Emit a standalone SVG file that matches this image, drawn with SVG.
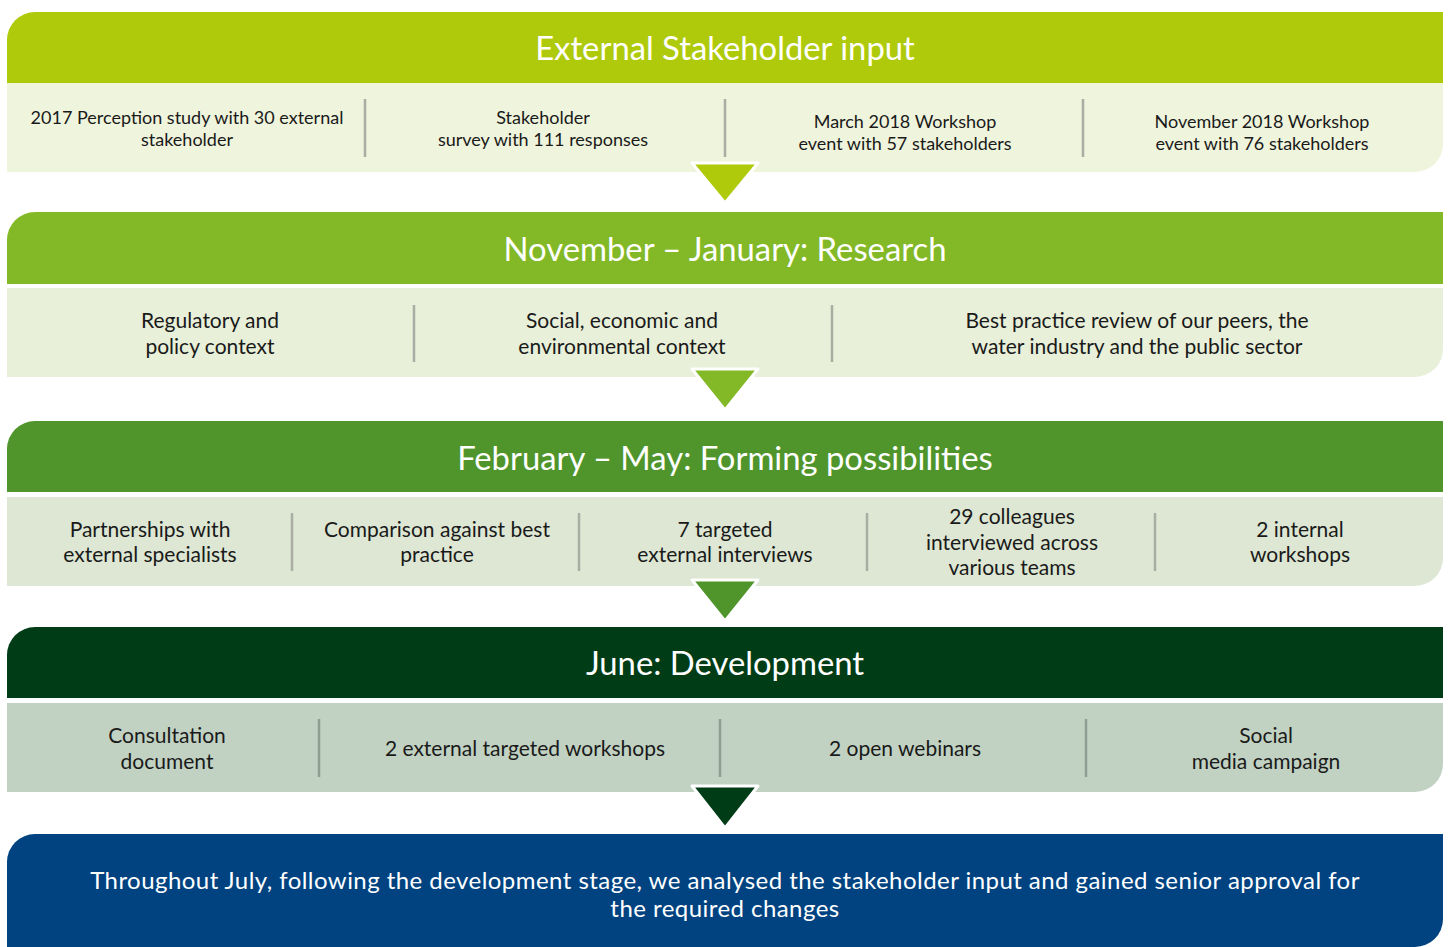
<svg xmlns="http://www.w3.org/2000/svg" width="1449" height="947" viewBox="0 0 1449 947">
  <style>
    .hd { font-family: Lato, "Open Sans", sans-serif; font-size: 32.8px; fill: #ffffff; text-anchor: middle; }
    .t1 { font-family: Lato, "Open Sans", sans-serif; font-size: 18px; fill: #1a1a1a; text-anchor: middle; }
    .t2 { font-family: Lato, "Open Sans", sans-serif; font-size: 21px; fill: #1a1a1a; text-anchor: middle; }
    .tb { font-family: Lato, "Open Sans", sans-serif; font-size: 24px; letter-spacing: 0.45px; fill: #ffffff; text-anchor: middle; }
    .dv { stroke: #a9ada3; stroke-width: 2.5; }
    .dv4 { stroke: #8e9e91; stroke-width: 2.5; }
    .arr { stroke: #ffffff; stroke-width: 3; stroke-linejoin: round; }
  </style>

  <!-- Stage 1: External stakeholder input -->
  <g id="stage-external">
    <path d="M7,83 V40 A28,28 0 0 1 35,12 H1443 V83 Z" fill="#afca0b"/>
    <path d="M7,83 H1443 V144 A28,28 0 0 1 1415,172 H7 Z" fill="#eff4dc"/>
    <text class="hd" x="725" y="60">External Stakeholder input</text>
    <line class="dv" x1="365" y1="99" x2="365" y2="157"/>
    <line class="dv" x1="725" y1="99" x2="725" y2="157"/>
    <line class="dv" x1="1083" y1="99" x2="1083" y2="157"/>
    <text class="t1" x="187" y="124">2017 Perception study with 30 external</text>
    <text class="t1" x="187" y="146">stakeholder</text>
    <text class="t1" x="543" y="124">Stakeholder</text>
    <text class="t1" x="543" y="146">survey with 111 responses</text>
    <text class="t1" x="905" y="128">March 2018 Workshop</text>
    <text class="t1" x="905" y="150">event with 57 stakeholders</text>
    <text class="t1" x="1262" y="128">November 2018 Workshop</text>
    <text class="t1" x="1262" y="150">event with 76 stakeholders</text>
  </g>

  <!-- Stage 2: Research -->
  <g id="stage-research">
    <path d="M7,284 V240 A28,28 0 0 1 35,212 H1443 V284 Z" fill="#83b927"/>
    <path d="M7,288 H1443 V349 A28,28 0 0 1 1415,377 H7 Z" fill="#e8f0d9"/>
    <text class="hd" x="725" y="261">November – January: Research</text>
    <line class="dv" x1="414" y1="305" x2="414" y2="362"/>
    <line class="dv" x1="832" y1="305" x2="832" y2="362"/>
    <text class="t2" x="210" y="328">Regulatory and</text>
    <text class="t2" x="210" y="354">policy context</text>
    <text class="t2" x="622" y="328">Social, economic and</text>
    <text class="t2" x="622" y="354">environmental context</text>
    <text class="t2" x="1137" y="328">Best practice review of our peers, the</text>
    <text class="t2" x="1137" y="354">water industry and the public sector</text>
  </g>

  <!-- Stage 3: Forming possibilities -->
  <g id="stage-forming">
    <path d="M7,492 V449 A28,28 0 0 1 35,421 H1443 V492 Z" fill="#4f952b"/>
    <path d="M7,497 H1443 V558 A28,28 0 0 1 1415,586 H7 Z" fill="#dde7d3"/>
    <text class="hd" x="725" y="470">February – May: Forming possibilities</text>
    <line class="dv" x1="292" y1="513" x2="292" y2="571"/>
    <line class="dv" x1="579" y1="513" x2="579" y2="571"/>
    <line class="dv" x1="867" y1="513" x2="867" y2="571"/>
    <line class="dv" x1="1155" y1="513" x2="1155" y2="571"/>
    <text class="t2" x="150" y="537">Partnerships with</text>
    <text class="t2" x="150" y="562">external specialists</text>
    <text class="t2" x="437" y="537">Comparison against best</text>
    <text class="t2" x="437" y="562">practice</text>
    <text class="t2" x="725" y="537">7 targeted</text>
    <text class="t2" x="725" y="562">external interviews</text>
    <text class="t2" x="1012" y="524">29 colleagues</text>
    <text class="t2" x="1012" y="550">interviewed across</text>
    <text class="t2" x="1012" y="575">various teams</text>
    <text class="t2" x="1300" y="537">2 internal</text>
    <text class="t2" x="1300" y="562">workshops</text>
  </g>

  <!-- Stage 4: Development -->
  <g id="stage-development">
    <path d="M7,698 V655 A28,28 0 0 1 35,627 H1443 V698 Z" fill="#003d16"/>
    <path d="M7,703 H1443 V764 A28,28 0 0 1 1415,792 H7 Z" fill="#c1d2c3"/>
    <text class="hd" x="725" y="675">June: Development</text>
    <line class="dv4" x1="319" y1="719" x2="319" y2="777"/>
    <line class="dv4" x1="720" y1="719" x2="720" y2="777"/>
    <line class="dv4" x1="1086" y1="719" x2="1086" y2="777"/>
    <text class="t2" x="167" y="743">Consultation</text>
    <text class="t2" x="167" y="769">document</text>
    <text class="t2" x="525" y="756">2 external targeted workshops</text>
    <text class="t2" x="905" y="756">2 open webinars</text>
    <text class="t2" x="1266" y="743">Social</text>
    <text class="t2" x="1266" y="769">media campaign</text>
  </g>

  <!-- Outcome -->
  <g id="stage-approval">
    <path d="M7,947 V862 A28,28 0 0 1 35,834 H1443 V919 A28,28 0 0 1 1415,947 Z" fill="#004380"/>
    <text class="tb" x="725" y="889">Throughout July, following the development stage, we analysed the stakeholder input and gained senior approval for</text>
    <text class="tb" x="725" y="917">the required changes</text>
  </g>

  <!-- Flow arrows between stages -->
  <g id="connectors">
    <path class="arr" d="M692,163 H758 L725,203 Z" fill="#afca0b"/>
    <path class="arr" d="M692,369 H758 L725,410 Z" fill="#83b927"/>
    <path class="arr" d="M692,580 H758 L725,621 Z" fill="#4f952b"/>
    <path class="arr" d="M692,786 H758 L725,828 Z" fill="#003d16"/>
  </g>
</svg>
